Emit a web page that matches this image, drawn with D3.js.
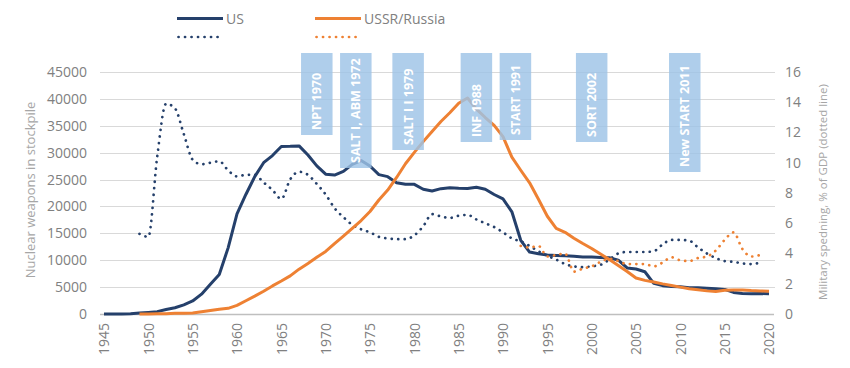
<!DOCTYPE html>
<html>
<head>
<meta charset="utf-8">
<script src="https://cdn.jsdelivr.net/npm/d3@7/dist/d3.min.js"></script>
<style>
	body { margin: 0; background: #fff; }
	svg text { font-family: 'Open Sans', 'Noto Sans', sans-serif; }
</style>
</head>
<body>
<div class="stockpile"></div>
<script>
'use strict';

// ---- data -----------------------------------------------------------------

// years on the category axis, labelled every 5 years
var xTicks = [1945, 1950, 1955, 1960, 1965, 1970, 1975, 1980, 1985, 1990, 1995, 2000, 2005, 2010, 2015, 2020];
var leftTicks = [0, 5000, 10000, 15000, 20000, 25000, 30000, 35000, 40000, 45000];
var rightTicks = [0, 2, 4, 6, 8, 10, 12, 14, 16];

// nuclear weapons in stockpile, US from 1945
var usStart = 1945;
var usStockpile = [
	2, 9, 13, 50, 170, 299, 438, 841, 1169, 1703,
	2422, 3692, 5543, 7345, 12298, 18638, 22229, 25540, 28133, 29463,
	31139, 31175, 31255, 29561, 27552, 26008, 25830, 26516, 27835, 28537,
	27519, 25914, 25542, 24418, 24138, 24104, 23208, 22886, 23305, 23459,
	23368, 23317, 23575, 23205, 22217, 21392, 19008, 13708, 11511, 11200,
	10953, 10871, 10824, 10738, 10606, 10577, 10526, 10457, 10027, 8570,
	8360, 7853, 5709, 5273, 5113, 5066, 4897, 4881, 4804, 4717,
	4571, 4018, 3822, 3785, 3805, 3750
];

// USSR/Russia from 1949
var ruStart = 1949;
var ruStockpile = [
	1, 5, 25, 50, 120, 150, 200, 426, 660, 869,
	1060, 1605, 2471, 3322, 4238, 5221, 6129, 7089, 8339, 9399,
	10538, 11643, 13092, 14478, 15915, 17385, 19055, 21205, 23044, 25393,
	27935, 30062, 32049, 33952, 35804, 37431, 39197, 40159, 38107, 36538,
	35078, 32980, 29154, 26734, 24403, 21339, 18179, 15942, 15200, 14100,
	13100, 12188, 11152, 10114, 9000, 7900, 6700, 6250, 5950, 5600,
	5300, 5000, 4700, 4500, 4300, 4200, 4400, 4450, 4450, 4350,
	4300, 4250
];

// military spending, % of GDP (dotted lines, right axis)
var usSpendStart = 1949;
var usSpending = [
	5.3, 5.1, 10.4, 13.9, 13.6, 11.9, 10.2, 9.9, 10.0, 10.1,
	9.5, 9.1, 9.2, 9.2, 8.7, 8.2, 7.6, 8.9, 9.4, 9.2,
	8.6, 7.9, 7.0, 6.4, 5.9, 5.6, 5.4, 5.1, 5.0, 4.95,
	4.95, 5.2, 5.8, 6.6, 6.45, 6.35, 6.5, 6.55, 6.25, 6.0,
	5.75, 5.4, 5.0, 4.8, 4.5, 4.15, 3.85, 3.6, 3.3, 3.15,
	3.1, 3.15, 3.25, 3.6, 4.0, 4.1, 4.1, 4.1, 4.15, 4.6,
	4.9, 4.9, 4.85, 4.4, 4.0, 3.7, 3.5, 3.45, 3.35, 3.3,
	3.4
];

var ruSpendStart = 1992;
var ruSpending = [
	4.5, 4.4, 4.5, 3.8, 3.9, 4.0, 2.8, 3.0, 3.15, 3.45,
	3.65, 3.5, 3.3, 3.3, 3.3, 3.15, 3.4, 3.75, 3.55, 3.5,
	3.7, 3.8, 4.2, 4.9, 5.4, 4.3, 3.8, 3.9
];

// arms control treaties shown as labelled boxes
var treaties = ['NPT 1970', 'SALT I, ABM 1972', 'SALT I I 1979', 'INF 1988', 'START 1991', 'SORT 2002', 'New START 2011'];

// ---- layout ------------------------------------------------------------------

var width = 850,
	height = 368;

var plot = { left: 100, right: 774, top: 72, bottom: 314 };

// where each treaty box sits (in axis years) and where its bottom edge is
var treatyAt = [1969.0, 1973.4, 1979.3, 1987.0, 1991.4, 2000.0, 2010.5];
var treatyBottom = [135, 168, 150, 142, 140, 142, 172];

var navy = '#25406b',
	orange = '#ee8133',
	tickGrey = '#808080',
	titleGrey = '#a6a6a6';

var x = d3.scaleLinear().domain([1945, 2020]).range([104, 769]);
var yLeft = d3.scaleLinear().domain([0, 45000]).range([plot.bottom, plot.top]);
var yRight = d3.scaleLinear().domain([0, 16]).range([plot.bottom, plot.top]);

function series(values, start) {
	return values.map(function(v, i) { return { year: start + i, v: v }; });
}

var svg = d3.select('.stockpile')
	.append('svg')
		.attr('width', width)
		.attr('height', height);

// horizontal grid lines follow the left axis
svg.append('g')
	.selectAll('line')
	.data(leftTicks.slice(1))
	.enter().append('line')
		.attr('x1', plot.left)
		.attr('x2', plot.right + 1)
		.attr('y1', function(d) { return Math.round(yLeft(d)) + 0.5; })
		.attr('y2', function(d) { return Math.round(yLeft(d)) + 0.5; })
		.attr('stroke', '#d9d9d9')
		.attr('stroke-width', 1.2);

// x axis line
svg.append('line')
	.attr('x1', plot.left)
	.attr('x2', plot.right)
	.attr('y1', plot.bottom + 0.5)
	.attr('y2', plot.bottom + 0.5)
	.attr('stroke', '#bfbfbf')
	.attr('stroke-width', 1.5);

// left axis labels, plain numbers without thousands separator
var gLeft = svg.append('g')
	.attr('transform', 'translate(' + plot.left + ',0)')
	.call(d3.axisLeft(yLeft).tickValues(leftTicks).tickSize(0).tickPadding(13).tickFormat(d3.format('d')));
gLeft.select('.domain').remove();
gLeft.selectAll('text')
	.attr('fill', tickGrey)
	.style('font-size', '14px');

// right axis labels
var gRight = svg.append('g')
	.attr('transform', 'translate(' + plot.right + ',0)')
	.call(d3.axisRight(yRight).tickValues(rightTicks).tickSize(0).tickPadding(11));
gRight.select('.domain').remove();
gRight.selectAll('text')
	.attr('fill', tickGrey)
	.style('font-size', '14px');

// bottom axis, labels turned on their side
var gBottom = svg.append('g')
	.attr('transform', 'translate(0,' + plot.bottom + ')')
	.call(d3.axisBottom(x).tickValues(xTicks).tickSize(0).tickFormat(d3.format('d')));
gBottom.select('.domain').remove();
gBottom.selectAll('text')
	.attr('transform', 'rotate(-90)')
	.attr('x', -9)
	.attr('y', 0)
	.attr('dy', '0.35em')
	.attr('fill', tickGrey)
	.style('text-anchor', 'end')
	.style('font-size', '14px');

// axis titles
svg.append('text')
	.attr('transform', 'translate(30,' + 190 + ') rotate(-90)')
	.attr('text-anchor', 'middle')
	.attr('dy', '0.35em')
	.attr('fill', titleGrey)
	.style('font-size', '13px')
	.text('Nuclear weapons in stockpile');

svg.append('text')
	.attr('transform', 'translate(823,' + 192 + ') rotate(-90)')
	.attr('text-anchor', 'middle')
	.attr('dy', '0.35em')
	.attr('fill', titleGrey)
	.style('font-size', '11.5px')
	.text('Military spedning, % of GDP (dotted line)');

// line generators
var stockLine = d3.line()
	.x(function(d) { return x(d.year); })
	.y(function(d) { return yLeft(d.v); });

var spendLine = d3.line()
	.curve(d3.curveMonotoneX)
	.x(function(d) { return x(d.year); })
	.y(function(d) { return yRight(d.v); });

function solid(sel, color) {
	sel.attr('fill', 'none')
		.attr('stroke', color)
		.attr('stroke-width', 3)
		.attr('stroke-linejoin', 'round');
}

function dotted(sel, color) {
	sel.attr('fill', 'none')
		.attr('stroke', color)
		.attr('stroke-width', 2.7)
		.attr('stroke-linecap', 'round')
		.attr('stroke-dasharray', '0.1 6.4');
}

svg.append('path')
	.datum(series(usStockpile, usStart))
	.attr('d', stockLine)
	.call(solid, navy);

svg.append('path')
	.datum(series(usSpending, usSpendStart))
	.attr('d', spendLine)
	.call(dotted, navy);

svg.append('path')
	.datum(series(ruStockpile, ruStart))
	.attr('d', stockLine)
	.call(solid, orange);

svg.append('path')
	.datum(series(ruSpending, ruSpendStart))
	.attr('d', spendLine)
	.call(dotted, orange);

// treaty boxes sit on top, a little see-through
var boxW = 31.5,
	boxTop = 53;

var boxes = svg.append('g')
	.selectAll('g')
	.data(treaties)
	.enter().append('g');

boxes.append('rect')
	.attr('x', function(d, i) { return x(treatyAt[i]) - boxW / 2; })
	.attr('y', boxTop)
	.attr('width', boxW)
	.attr('height', function(d, i) { return treatyBottom[i] - boxTop; })
	.attr('fill', '#9dc3e6')
	.attr('fill-opacity', 0.82);

boxes.append('text')
	.attr('transform', function(d, i) {
		return 'translate(' + x(treatyAt[i]) + ',' + (treatyBottom[i] - 5) + ') rotate(-90)';
	})
	.attr('dy', '0.36em')
	.attr('fill', '#fff')
	.style('font-size', '12.5px')
	.style('font-weight', 'bold')
	.text(function(d) { return d; });

// legend
var legend = [
	{ name: 'US', color: navy, x: 177 },
	{ name: 'USSR/Russia', color: orange, x: 315 }
];

var lg = svg.append('g')
	.selectAll('g')
	.data(legend)
	.enter().append('g')
		.attr('transform', function(d) { return 'translate(' + d.x + ',0)'; });

lg.append('line')
	.attr('x1', 0).attr('x2', 46)
	.attr('y1', 18.5).attr('y2', 18.5)
	.call(solid, function(d) { return d.color; });

lg.append('line')
	.attr('x1', 1.5).attr('x2', 42)
	.attr('y1', 37).attr('y2', 37)
	.call(dotted, function(d) { return d.color; });

lg.append('text')
	.attr('x', 49)
	.attr('y', 19)
	.attr('dy', '0.35em')
	.attr('fill', tickGrey)
	.style('font-size', '14px')
	.text(function(d) { return d.name; });
</script>
</body>
</html>
